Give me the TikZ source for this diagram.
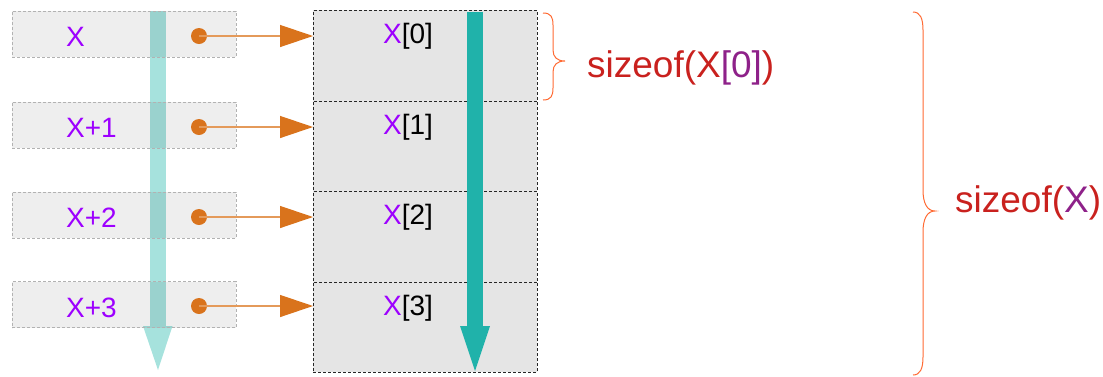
\documentclass[tikz,border=0pt]{standalone}
\usepackage{fontspec}
\setmainfont{Liberation Sans}
\usetikzlibrary{arrows.meta}
\definecolor{xpurple}{HTML}{9D00FF}
\definecolor{szred}{HTML}{C9211E}
\definecolor{szpurple}{HTML}{8E2189}
\definecolor{braceorange}{HTML}{FF6A33}
\definecolor{ptrorange}{HTML}{D9731C}
\definecolor{ptrline}{HTML}{E49A5A}
\definecolor{tealdark}{HTML}{20B2AA}
\definecolor{teallight}{HTML}{A6E2DD}
\tikzset{
  ptrbox/.style={draw=black!30, dash pattern=on 3pt off 2pt, fill=black, fill opacity=0.067, text opacity=1, draw opacity=1, minimum width=224pt, minimum height=46pt, inner sep=0pt},
  membox/.style={draw=black!85, dash pattern=on 3pt off 2pt, fill=black!10, minimum width=224pt, minimum height=90.5pt, inner sep=0pt},
  ptrlabel/.style={text=xpurple, font=\fontsize{28}{32}\selectfont, inner sep=0pt, anchor=west},
  memlabel/.style={font=\fontsize{28}{32}\selectfont, inner sep=0pt},
  dot/.style={circle, fill=ptrorange, minimum size=16pt, inner sep=0pt},
  ptrarrow/.style={draw=ptrline, line width=1.3pt, -{Triangle[length=33pt,width=22pt,fill=ptrorange,color=ptrorange]}},
  bracestyle/.style={draw=braceorange, line width=1pt},
  sizelabel/.style={text=szred, font=\fontsize{37}{42}\selectfont, inner sep=0pt, anchor=west}
}
\begin{document}
\begin{tikzpicture}[x=1pt,y=-1pt]
\useasboundingbox (0,0) rectangle (1103,376);
% light arrow (under pointer boxes)
\fill[teallight] (150,11) rectangle (166,326);
\fill[teallight] (143,326) -- (172.5,326) -- (158,370) -- cycle;
% pointer boxes
\node[ptrbox] (p0) at (124,34) {};
\node[ptrbox] (p1) at (124,125) {};
\node[ptrbox] (p2) at (124,215) {};
\node[ptrbox] (p3) at (124,304.5) {};
\node[ptrlabel] (l0) at (66,37) {X};
\node[ptrlabel] (l1) at (66,128) {X+1};
\node[ptrlabel] (l2) at (66,218) {X+2};
\node[ptrlabel] (l3) at (66,308) {X+3};
% memory boxes
\node[membox] (m0) at (425,55.5) {};
\node[membox] (m1) at (425,146) {};
\node[membox] (m2) at (425,236.5) {};
\node[membox] (m3) at (425,327) {};
\node[memlabel] (t0) at (408,36) {\textcolor{xpurple}{X}[0]};
\node[memlabel] (t1) at (408,127) {\textcolor{xpurple}{X}[1]};
\node[memlabel] (t2) at (408,217) {\textcolor{xpurple}{X}[2]};
\node[memlabel] (t3) at (408,308) {\textcolor{xpurple}{X}[3]};
% dark arrow
\fill[tealdark] (467,12) rectangle (483,326);
\fill[tealdark] (460,326) -- (490,326) -- (475,371) -- cycle;
% pointer dots and arrows
\node[dot] (d0) at (199,36) {};
\node[dot] (d1) at (199,127) {};
\node[dot] (d2) at (199,217) {};
\node[dot] (d3) at (199,306) {};
\coordinate (e0) at (313,36);
\coordinate (e1) at (313,127);
\coordinate (e2) at (313,217);
\coordinate (e3) at (313,306);
\draw[ptrarrow] (d0.center) -- (e0);
\draw[ptrarrow] (d1.center) -- (e1);
\draw[ptrarrow] (d2.center) -- (e2);
\draw[ptrarrow] (d3.center) -- (e3);
% small brace
\draw[bracestyle] (543,13) .. controls (551,13) and (553,17) .. (553,25)
  -- (553,50) .. controls (553,57) and (557,61) .. (565,61)
  .. controls (557,61) and (553,65) .. (553,72)
  -- (553,88) .. controls (553,96) and (551,100) .. (543,100);
\node[sizelabel] (s0) at (587,68) {sizeof(X\textcolor{szpurple}{[0]})};
% big brace
\draw[bracestyle] (913,12) .. controls (920,12) and (923,18) .. (923,30)
  -- (923,190) .. controls (923,203) and (927,211) .. (935,211)
  .. controls (927,211) and (923,219) .. (923,232)
  -- (923,357) .. controls (923,369) and (920,375) .. (913,375);
\node[sizelabel] (s1) at (955,203) {sizeof(\textcolor{szpurple}{X})};
\end{tikzpicture}
\end{document}
